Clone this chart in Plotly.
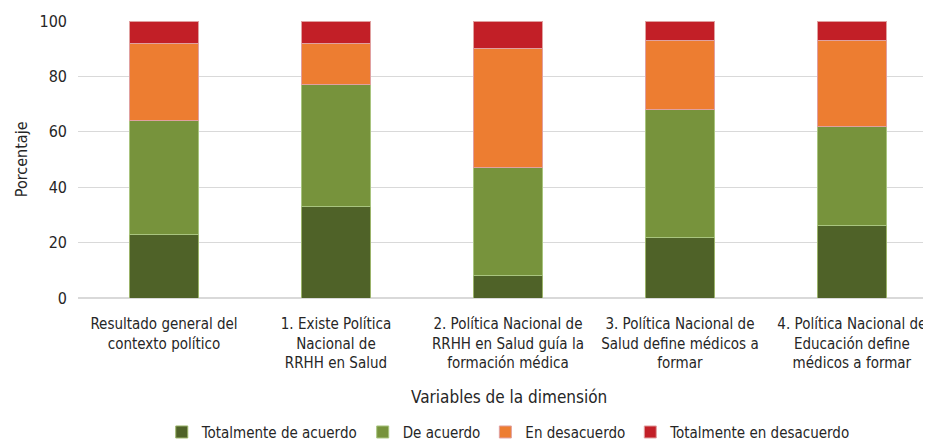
import plotly.graph_objects as go

categories = [
    "Resultado general del<br>contexto político",
    "1. Existe Política<br>Nacional de<br>RRHH en Salud",
    "2. Política Nacional de<br>RRHH en Salud guía la<br>formación médica",
    "3. Política Nacional de<br>Salud define médicos a<br>formar",
    "4. Política Nacional de<br>Educación define<br>médicos a formar",
]
totalmente_de_acuerdo = [23, 33, 8, 22, 26]
de_acuerdo = [41, 44, 39, 46, 36]
en_desacuerdo = [28, 15, 43, 25, 31]
totalmente_en_desacuerdo = [8, 8, 10, 7, 7]
y_ticks = [0, 20, 40, 60, 80, 100]

FONT = "DejaVu Sans Condensed, Liberation Sans Narrow, sans-serif"
TXT = "#262626"

series = [
    ("Totalmente de acuerdo", totalmente_de_acuerdo, "#4F6228", "#9bb36a"),
    ("De acuerdo", de_acuerdo, "#77933C", "#a9c47f"),
    ("En desacuerdo", en_desacuerdo, "#ED7D31", "#e0a0a0"),
    ("Totalmente en desacuerdo", totalmente_en_desacuerdo, "#C21F27", "#e0a0a0"),
]

fig = go.Figure()
for name, vals, col, lcol in series:
    fig.add_trace(go.Bar(
        x=list(range(len(categories))), y=vals, name=name,
        marker=dict(color=col, line=dict(color=lcol, width=1)),
    ))

# page body has an 8px default margin: the figure is drawn at (8, 8)
fig.update_layout(
    barmode="stack",
    bargap=0.6,
    width=923, height=434,
    margin=dict(l=70, r=0, t=13, b=144, autoexpand=False),
    paper_bgcolor="white", plot_bgcolor="white",
    font=dict(family=FONT, size=15, color=TXT),
    showlegend=True,
    legend=dict(orientation="h", x=0.505, xanchor="center", y=-0.425, yanchor="top",
                font=dict(family=FONT, size=15, color=TXT), traceorder="normal",
                itemwidth=30),
    xaxis=dict(
        tickmode="array", tickvals=list(range(len(categories))), ticktext=categories,
        range=[-0.5, 4.46], showgrid=False, showline=False, ticks="",
        tickfont=dict(family=FONT, size=15, color=TXT), tickangle=0,
        automargin=False, ticklabeloverflow="allow", ticklabelstandoff=15,
    ),
    yaxis=dict(
        range=[0, 100], tickvals=y_ticks, showgrid=True, gridcolor="#d9d9d9", gridwidth=1,
        zeroline=True, zerolinecolor="#d9d9d9", zerolinewidth=1.5,
        showline=False, ticks="", ticklabelstandoff=10, automargin=False,
        tickfont=dict(family=FONT, size=16, color=TXT),
    ),
    annotations=[
        dict(text="Variables de la dimensión", xref="paper", yref="paper",
             x=0.505, y=-0.356, xanchor="center", yanchor="middle", showarrow=False,
             font=dict(family=FONT, size=17, color=TXT)),
        dict(text="Porcentaje", xref="paper", yref="paper", x=-0.066, y=0.5,
             xanchor="center", yanchor="middle", textangle=-90, showarrow=False,
             font=dict(family=FONT, size=16, color=TXT)),
    ],
)

fig.write_html("out.html")
